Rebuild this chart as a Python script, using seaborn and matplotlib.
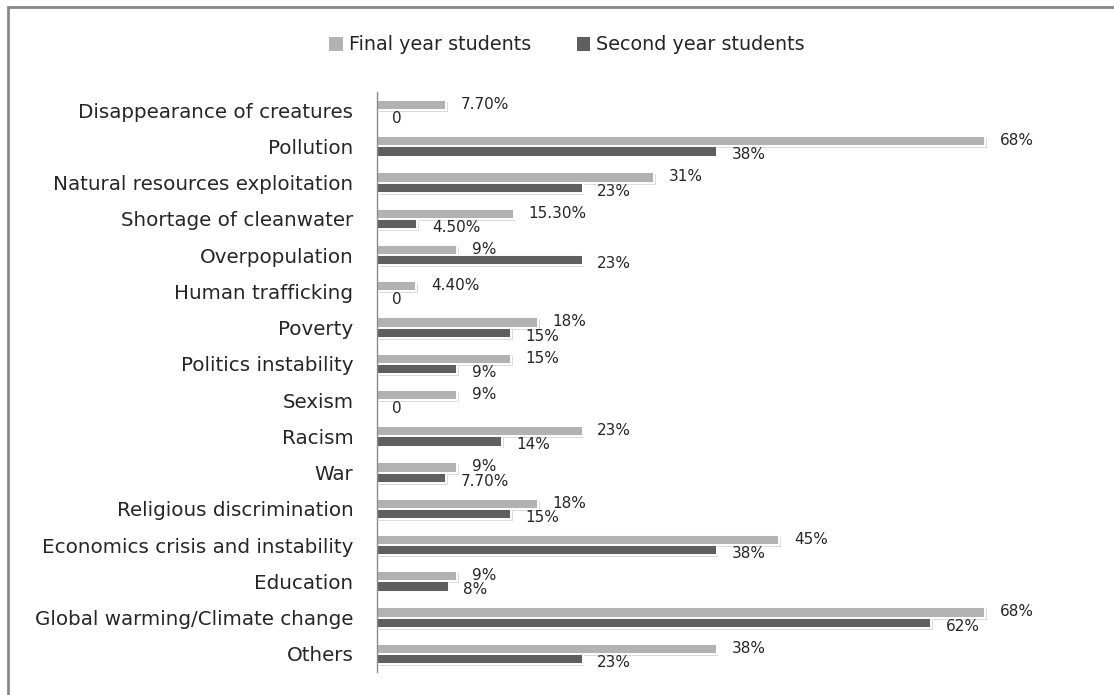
import matplotlib
matplotlib.use("Agg")
import matplotlib.pyplot as plt
import matplotlib.patheffects as pe
from matplotlib.patches import Rectangle
import seaborn as sns
import pandas as pd

# Environmental / social issues named by students (% of respondents)
issues = [
    "Disappearance of creatures", "Pollution", "Natural resources exploitation",
    "Shortage of cleanwater", "Overpopulation", "Human trafficking", "Poverty",
    "Politics instability", "Sexism", "Racism", "War", "Religious discrimination",
    "Economics crisis and instability", "Education",
    "Global warming/Climate change", "Others",
]
final_year = [7.7, 68, 31, 15.3, 9, 4.4, 18, 15, 9, 23, 9, 18, 45, 9, 68, 38]
second_year = [0, 38, 23, 4.5, 23, 0, 15, 9, 0, 14, 7.7, 15, 38, 8, 62, 23]
groups = ["Final year students", "Second year students"]

LIGHT = "#B2B2B2"
DARK = "#5F5F5F"
TEXT = "#262626"

df = pd.DataFrame({
    "issue": issues * 2,
    "value": final_year + second_year,
    "group": [groups[0]] * len(issues) + [groups[1]] * len(issues),
})

sns.set_theme(style="white")
plt.rcParams["font.family"] = ["DejaVu Sans"]

W, H = 1114, 695
fig = plt.figure(figsize=(W / 100, H / 100), dpi=100)
ax = fig.add_axes([377 / W, 1 - 672 / H, 626 / W, 580 / H])

sns.barplot(data=df, y="issue", x="value", hue="group", orient="h",
            palette=[LIGHT, DARK], width=0.56, ax=ax, legend=False,
            order=issues, hue_order=groups)

# white rim with a soft drop shadow on each bar
shadow = [pe.SimplePatchShadow(offset=(1.2, -1.4), shadow_rgbFace="#000000", alpha=0.14),
          pe.Normal()]
for p in ax.patches:
    p.set_edgecolor("white")
    p.set_linewidth(1.4)
    p.set_path_effects(shadow)


def fmt(v):
    if v == 0:
        return "0"
    if float(v).is_integer():
        return f"{v:.0f}%"
    return f"{v:.2f}%"


for container, vals, dy in zip(ax.containers, [final_year, second_year], [0.5, -2.5]):
    for bar, v in zip(container.patches, vals):
        yc = bar.get_y() + bar.get_height() / 2
        ax.annotate(fmt(v), xy=(v, yc), xytext=(10.5, dy), textcoords="offset points",
                    ha="left", va="center", fontsize=11, color=TEXT)

ax.set_xlim(0, 70)
ax.set_ylim(15.5, -0.5)
ax.set_xlabel("")
ax.set_ylabel("")
ax.set_xticks([])
ax.tick_params(axis="y", length=0, pad=17, labelsize=14.3, labelcolor=TEXT)
for s in ["top", "right", "bottom"]:
    ax.spines[s].set_visible(False)
ax.spines["left"].set_color("#8C8C8C")
ax.spines["left"].set_linewidth(1.0)

handles = [Rectangle((0, 0), 1, 1, facecolor=c, edgecolor="none") for c in (LIGHT, DARK)]
fig.legend(handles, groups, loc="center", bbox_to_anchor=(0.509, 1 - 45 / H),
           ncol=2, frameon=False, fontsize=13.8, handlelength=0.7, handleheight=0.7,
           handletextpad=0.3, columnspacing=2.4, labelcolor=TEXT)

# chart frame
fig.patches.append(Rectangle((8 / W, -0.1), 1.2, 1 - 7 / H + 0.1, transform=fig.transFigure,
                             fill=False, edgecolor="#888888", linewidth=2.0))

fig.savefig("out.png", dpi=100, facecolor="white")
